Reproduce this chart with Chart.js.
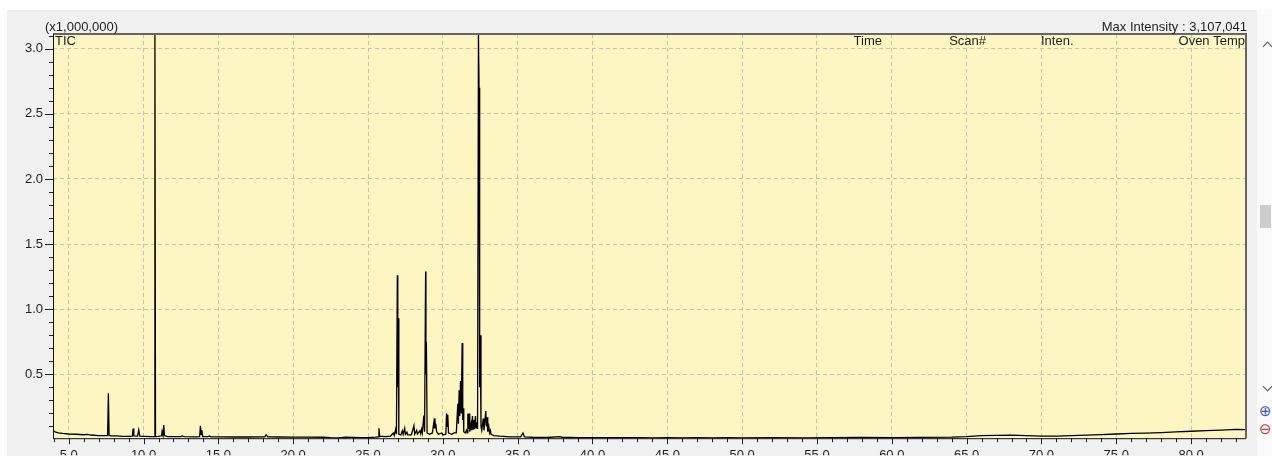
<!DOCTYPE html>
<html>
<head>
<meta charset="utf-8">
<script src="https://cdn.jsdelivr.net/npm/chart.js@4.4.1/dist/chart.umd.min.js"></script>
<style>
  html, body { margin: 0; padding: 0; background: #fff; }
  #wrap { position: relative; width: 1272px; height: 456px; overflow: hidden; }
  #panel { position: absolute; left: 7px; top: 10px; width: 1250px; height: 446px; background: #f0f0f0; }
  #strip { position: absolute; left: 1257px; top: 10px; width: 15px; height: 446px; background: #fafafa; }
  #thumb { position: absolute; left: 1260px; top: 205px; width: 11px; height: 23px; background: #cdcdcd; }
  .chev { position: absolute; width: 6px; height: 6px; border-left: 1.5px solid #555; border-top: 1.5px solid #555; }
  .zoombtn { position: absolute; left: 1259px; font: 15px "DejaVu Sans"; line-height: 15px; }
  canvas { position: absolute; left: 0; top: 0; }
</style>
</head>
<body>
<div id="wrap">
  <div id="panel"></div>
  <div id="strip"></div>
  <div id="thumb"></div>
  <div class="chev" style="left:1264px; top:43px; transform: rotate(45deg);"></div>
  <div class="chev" style="left:1264px; top:383px; transform: rotate(225deg);"></div>
  <div class="zoombtn" style="top:404px; color:#3b5bb8;">⊕</div>
  <div class="zoombtn" style="top:422px; color:#c83a3a;">⊖</div>
  <canvas id="chart" width="1272" height="456"></canvas>
</div>
<script>
// TIC trace (retention time in min, intensity in x1,000,000)
const ticTime = [
  3.95, 4.1, 4.3, 4.6, 5.0, 5.5, 6.0, 6.25, 6.5, 7.0, 7.5, 7.6, 7.65, 7.7, 7.8, 8.2, 8.6, 9.0,
  9.25, 9.3, 9.35, 9.6, 9.68, 9.75, 10.0, 10.5, 10.72, 10.76, 10.8, 11.0, 11.2, 11.24, 11.3, 11.35,
  11.4, 11.6, 12.0, 12.5, 12.57, 12.7, 13.5, 13.75, 13.8, 13.85, 13.9, 13.95, 14.3, 14.4, 14.5,
  15.0, 16.0, 17.0, 18.1, 18.19, 18.3, 19.0, 20.0, 21.0, 22.0, 22.5, 23.0, 23.5, 24.0, 24.5, 25.0,
  25.5, 25.68, 25.73, 25.78, 26.2, 26.5, 26.69, 26.75, 26.85, 26.9, 26.96, 26.99, 27.02, 27.06,
  27.2, 27.29, 27.35, 27.45, 27.5, 27.6, 27.65, 27.9, 28.07, 28.12, 28.25, 28.3, 28.47, 28.52,
  28.58, 28.63, 28.73, 28.78, 28.85, 28.87, 28.9, 28.95, 29.1, 29.3, 29.4, 29.44, 29.47, 29.5,
  29.53, 29.58, 29.7, 29.93, 30.0, 30.2, 30.25, 30.29, 30.33, 30.38, 30.6, 30.75, 30.9, 31.0,
  31.04, 31.09, 31.13, 31.18, 31.23, 31.29, 31.33, 31.36, 31.4, 31.5, 31.58, 31.62, 31.67, 31.71,
  31.75, 31.8, 31.89, 31.93, 31.98, 32.02, 32.07, 32.12, 32.18, 32.22, 32.27, 32.32, 32.38, 32.42,
  32.46, 32.5, 32.55, 32.6, 32.7, 32.75, 32.87, 32.91, 32.96, 33.0, 33.07, 33.12, 33.18, 33.22,
  33.4, 33.8, 34.5, 35.2, 35.36, 35.45, 36.0, 37.0, 37.8, 38.0, 39.0, 40.0, 41.0, 42.0, 43.0,
  44.0, 45.0, 46.0, 47.0, 48.0, 49.0, 50.0, 52.0, 54.0, 56.0, 58.0, 60.0, 62.0, 64.0, 65.0, 66.0,
  67.0, 68.0, 69.0, 70.0, 71.0, 72.0, 73.0, 74.0, 75.0, 76.0, 77.0, 78.0, 79.0, 80.0, 81.0, 82.0,
  83.0, 83.67
];
const ticValue = [
  0.068, 0.058, 0.050, 0.046, 0.042, 0.040, 0.036, 0.039, 0.034, 0.030, 0.029, 0.030, 0.354, 0.032, 0.028, 0.027, 0.024, 0.024,
  0.026, 0.084, 0.027, 0.026, 0.073, 0.025, 0.024, 0.022, 0.022, 3.2, 0.022, 0.024, 0.028, 0.060, 0.030, 0.110,
  0.030, 0.022, 0.021, 0.022, 0.027, 0.021, 0.020, 0.022, 0.104, 0.040, 0.070, 0.022, 0.022, 0.026, 0.020,
  0.020, 0.019, 0.019, 0.020, 0.035, 0.020, 0.019, 0.018, 0.018, 0.017, 0.013, 0.012, 0.017, 0.016, 0.013, 0.014,
  0.018, 0.020, 0.086, 0.025, 0.022, 0.025, 0.049, 0.030, 0.080, 0.040, 1.26, 0.40, 0.93, 0.040,
  0.035, 0.067, 0.040, 0.086, 0.040, 0.055, 0.035, 0.035, 0.106, 0.040, 0.070, 0.040, 0.067, 0.045,
  0.078, 0.050, 0.184, 0.060, 1.29, 0.50, 0.75, 0.050, 0.040, 0.050, 0.132, 0.090, 0.163, 0.090,
  0.120, 0.060, 0.040, 0.050, 0.035, 0.040, 0.200, 0.100, 0.190, 0.050, 0.040, 0.050, 0.050, 0.274,
  0.120, 0.378, 0.180, 0.448, 0.200, 0.741, 0.150, 0.240, 0.060, 0.050, 0.070, 0.050, 0.197, 0.080,
  0.200, 0.060, 0.120, 0.070, 0.180, 0.080, 0.150, 0.080, 0.180, 0.090, 0.130, 0.080, 3.107, 2.70,
  0.40, 0.80, 0.100, 0.070, 0.160, 0.070, 0.218, 0.100, 0.170, 0.060, 0.100, 0.050, 0.070, 0.040,
  0.030, 0.025, 0.020, 0.020, 0.050, 0.020, 0.017, 0.015, 0.022, 0.017, 0.014, 0.013, 0.014, 0.013, 0.014,
  0.012, 0.013, 0.012, 0.013, 0.012, 0.013, 0.012, 0.013, 0.012, 0.014, 0.015, 0.014, 0.016, 0.018, 0.022, 0.030,
  0.032, 0.033, 0.030, 0.025, 0.026, 0.030, 0.033, 0.037, 0.042, 0.046, 0.049, 0.053, 0.058, 0.063, 0.068, 0.072,
  0.078, 0.076
];
const xTickValues = [5, 10, 15, 20, 25, 30, 35, 40, 45, 50, 55, 60, 65, 70, 75, 80];
const yTickValues = [0.5, 1.0, 1.5, 2.0, 2.5, 3.0];
const headerLabels = ["Time", "Scan#", "Inten.", "Oven Temp"];

const FONT = "Liberation Sans";
const TEXT = "#1e1e1e";

const decor = {
  id: "decor",
  beforeDraw(chart) {
    const { ctx, chartArea: a } = chart;
    ctx.save();
    ctx.fillStyle = "#fdf5c2";
    ctx.fillRect(a.left, a.top, a.right - a.left, a.bottom - a.top);
    ctx.restore();
  },
  afterDraw(chart) {
    const { ctx, chartArea: a } = chart;
    const xs = chart.scales.x, ys = chart.scales.y;
    ctx.save();
    // tick marks
    ctx.strokeStyle = "#222";
    ctx.lineWidth = 1;
    ctx.beginPath();
    for (let i = 4; i <= 83; i++) {
      const px = Math.round(xs.getPixelForValue(i)) + 0.5;
      const len = i % 5 === 0 ? 6 : 4;
      ctx.moveTo(px, a.bottom);
      ctx.lineTo(px, a.bottom + len);
    }
    for (let i = 1; i <= 31; i++) {
      const py = Math.round(ys.getPixelForValue(i / 10)) + 0.5;
      const len = i % 5 === 0 ? 8 : 4;
      ctx.moveTo(a.left, py);
      ctx.lineTo(a.left - len, py);
    }
    ctx.stroke();
    // frame
    ctx.strokeStyle = "#666";
    ctx.lineWidth = 2;
    ctx.beginPath();
    ctx.moveTo(a.left, a.top);
    ctx.lineTo(a.right, a.top);
    ctx.lineTo(a.right, a.bottom);
    ctx.stroke();
    ctx.strokeStyle = "#111";
    ctx.lineWidth = 1;
    ctx.beginPath();
    ctx.moveTo(a.left + 0.5, a.top);
    ctx.lineTo(a.left + 0.5, a.bottom + 0.5);
    ctx.lineTo(a.right, a.bottom + 0.5);
    ctx.stroke();
    // texts
    ctx.fillStyle = TEXT;
    ctx.font = "13px '" + FONT + "'";
    ctx.textBaseline = "alphabetic";
    ctx.textAlign = "left";
    ctx.fillText("(x1,000,000)", 45, 31);
    ctx.fillText("TIC", a.left + 2, a.top + 11);
    ctx.fillText(headerLabels[2], 1041, a.top + 11);
    ctx.textAlign = "right";
    ctx.fillText("Max Intensity : 3,107,041", 1247, 31);
    ctx.fillText(headerLabels[0], 882, a.top + 11);
    ctx.fillText(headerLabels[1], 986, a.top + 11);
    ctx.fillText(headerLabels[3], a.right - 1, a.top + 11);
    ctx.restore();
  }
};

new Chart(document.getElementById("chart"), {
  type: "line",
  data: {
    datasets: [{
      label: "TIC",
      data: ticTime.map((t, i) => ({ x: t, y: ticValue[i] })),
      borderColor: "#000",
      borderWidth: 1.3,
      pointRadius: 0,
      tension: 0
    }]
  },
  options: {
    responsive: false,
    animation: false,
    devicePixelRatio: 1,
    layout: { padding: { top: 34, right: 26, left: 0, bottom: 0 } },
    plugins: { legend: { display: false }, tooltip: { enabled: false } },
    scales: {
      x: {
        type: "linear",
        min: 3.95,
        max: 83.67,
        afterBuildTicks: (s) => { s.ticks = xTickValues.map((v) => ({ value: v })); },
        afterFit: (s) => { s.height = 17; },
        ticks: {
          callback: (v) => Number(v).toFixed(1),
          font: { family: FONT, size: 13 },
          color: TEXT,
          padding: 9,
          maxRotation: 0,
          autoSkip: false
        },
        grid: { color: "#c6c3b4", drawTicks: false, lineWidth: 1 },
        border: { display: false, dash: [4, 3] }
      },
      y: {
        min: 0.0096,
        max: 3.113,
        afterBuildTicks: (s) => { s.ticks = yTickValues.map((v) => ({ value: v })); },
        afterFit: (s) => { s.width = 53; },
        ticks: {
          callback: (v) => Number(v).toFixed(1),
          font: { family: FONT, size: 13 },
          color: TEXT,
          padding: 10,
          autoSkip: false
        },
        grid: { color: "#c6c3b4", drawTicks: false, lineWidth: 1 },
        border: { display: false, dash: [4, 3] }
      }
    }
  },
  plugins: [decor]
});
</script>
</body>
</html>
